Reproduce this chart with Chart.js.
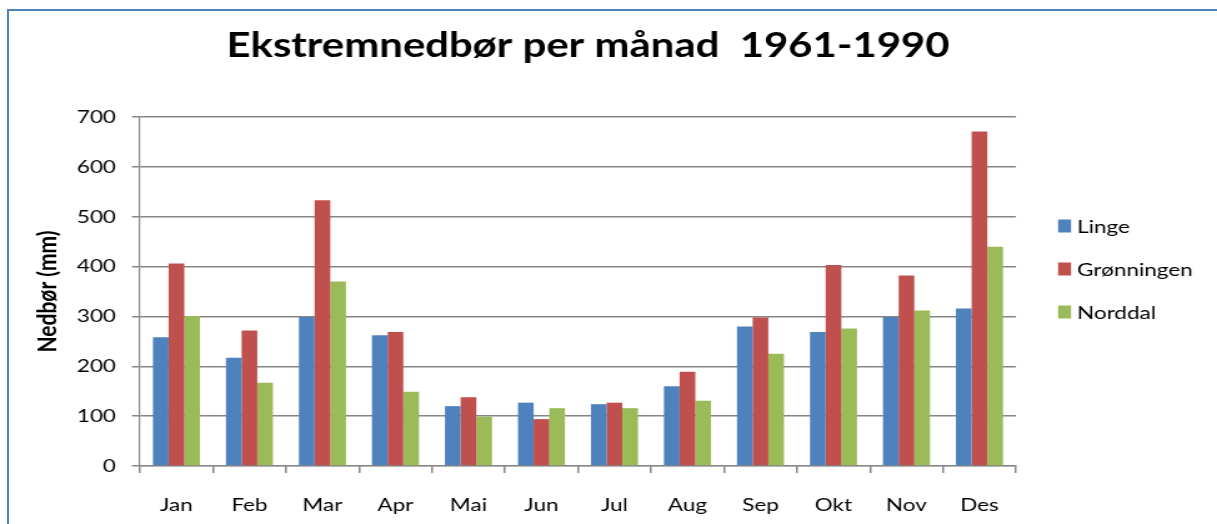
<!DOCTYPE html>
<html>
<head>
<meta charset="utf-8">
<script src="https://cdn.jsdelivr.net/npm/chart.js"></script>
<style>
  html, body { margin: 0; padding: 0; background: #fff; overflow: hidden; }
  /* the reference is a horizontally stretched screenshot, so the chart is drawn narrower and stretched */
  #wrap { position: absolute; left: 0; top: 0; width: 974px; height: 524px; transform: scaleX(1.2495); transform-origin: 0 0; }
  #frame { position: absolute; left: 7px; top: 9px; width: 1300px; height: 600px; border-left: 2px solid #4F81BD; border-top: 2px solid #4F81BD; pointer-events: none; }
</style>
</head>
<body>
<div id="wrap"><canvas id="myChart"></canvas></div>
<div id="frame"></div>
<script>
var months = ['Jan', 'Feb', 'Mar', 'Apr', 'Mai', 'Jun', 'Jul', 'Aug', 'Sep', 'Okt', 'Nov', 'Des'];
var linge = [258, 217, 299, 262, 120, 127, 124, 160, 280, 269, 299, 316];
var gronningen = [406, 272, 533, 269, 138, 94, 127, 189, 298, 403, 382, 671];
var norddal = [301, 167, 370, 149, 99, 116, 116, 131, 225, 276, 312, 440];
var yTicks = [0, 100, 200, 300, 400, 500, 600, 700];

var titleText = 'Ekstremnedbør per månad  1961-1990';
var fontName = 'Lato';

// title + legend drawn by hand so they can sit where Excel put them
var titleAndLegend = {
    id: 'titleAndLegend',
    afterDraw: function(chart) {
        var ctx = chart.ctx;
        ctx.save();
        ctx.fillStyle = '#000';
        ctx.font = 'bold 33.5px ' + fontName;
        ctx.textAlign = 'center';
        ctx.textBaseline = 'alphabetic';
        ctx.fillText(titleText, 470.6, 57);

        ctx.font = '18px ' + fontName;
        ctx.textAlign = 'left';
        ctx.textBaseline = 'middle';
        chart.data.datasets.forEach(function(ds, i) {
            var cy = 226 + i * 43;
            ctx.fillStyle = ds.backgroundColor;
            ctx.fillRect(846.8, cy - 6.5, 10.4, 13);
            ctx.fillStyle = '#000';
            ctx.fillText(ds.label, 862, cy + 1);
        });
        ctx.restore();
    }
};

var myChart = document.getElementById('myChart').getContext('2d');
var chart = new Chart(myChart, {
    type: 'bar',
    data: {
        labels: months,
        datasets: [
            { label: 'Linge', data: linge, backgroundColor: '#4F81BD' },
            { label: 'Grønningen', data: gronningen, backgroundColor: '#C0504D' },
            { label: 'Norddal', data: norddal, backgroundColor: '#9BBB59' }
        ]
    },
    options: {
        responsive: true,
        maintainAspectRatio: false,
        animation: false,
        categoryPercentage: 0.644,
        barPercentage: 1.0,
        layout: { padding: { left: 0, right: 160.9, top: 117, bottom: 0 } },
        plugins: {
            legend: { display: false },
            title: { display: false },
            tooltip: { enabled: false }
        },
        scales: {
            x: {
                afterFit: function(s) { s.height = 58; },
                grid: { drawOnChartArea: false, drawTicks: true, tickLength: 7, color: '#868686', lineWidth: 1.5, offset: true },
                border: { display: true, color: '#868686', width: 1.2 },
                ticks: { color: '#000', font: { family: fontName, size: 18 }, padding: 21 }
            },
            y: {
                min: 0,
                max: 700,
                afterFit: function(s) { s.width = 112; },
                afterBuildTicks: function(s) { s.ticks = yTicks.map(function(v) { return { value: v }; }); },
                grid: { color: '#868686', lineWidth: 1.5, tickLength: 6.4 },
                border: { display: true, color: '#868686', width: 1.2 },
                ticks: { color: '#000', font: { family: fontName, size: 18 }, padding: 12.8 },
                title: { display: true, text: 'Nedbør (mm)', color: '#000', font: { family: fontName, size: 21, weight: 'bold' }, padding: { top: 25.8 } }
            }
        }
    },
    plugins: [titleAndLegend]
});
</script>
</body>
</html>
